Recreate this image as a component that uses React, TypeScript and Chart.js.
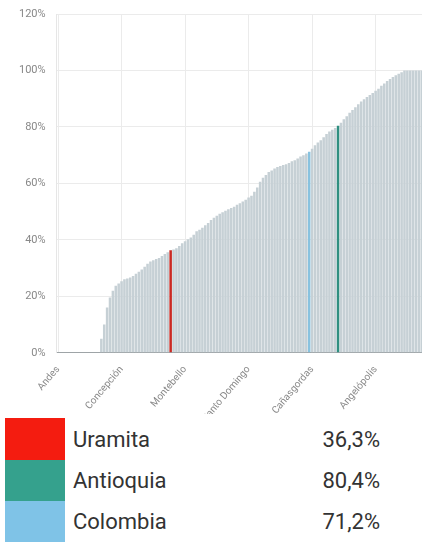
import React, { useEffect, useRef } from "react";
import { Chart, registerables } from "chart.js";

Chart.register(...registerables);

// Share per municipality, sorted ascending (Antioquia and Colombia inserted)
const values: number[] = [
  0, 0, 0, 0, 0, 0, 0, 0, 0, 0, 0, 0, 0, 0, 0,
  5, 10, 16, 19.6, 22, 23.7, 24.5, 25.3, 26, 26.3,
  26.7, 27.2, 28, 28.7, 29.5, 30.5, 31.5, 32.3, 32.8, 33.2,
  33.6, 34.3, 35.0, 35.6, 36.3,
  36.6, 37.0, 37.8, 38.8, 39.5, 40.2, 40.8, 41.8, 43.0, 43.6,
  44.3, 45.2, 46.0, 47.0, 47.8, 48.5, 49.2, 49.8, 50.3, 50.8,
  51.3, 51.7, 52.4, 53.0, 53.6, 54.2, 55.0, 55.6, 57.0, 58.5,
  60.6, 62.0, 63.0, 64.0, 64.6, 65.3, 65.8, 66.2, 66.5, 66.8,
  67.2, 67.8, 68.2, 68.8, 69.5, 70.0, 70.6, 71.2, 72.3, 73.5,
  74.5, 75.3, 76.3, 77.5, 78.4, 79.0, 79.6, 80.4, 81.5, 82.7,
  83.8, 85.0, 86.0, 87.0, 88.0, 89.0, 89.8, 90.6, 91.3, 92.0,
  92.8, 93.5, 94.6, 95.4, 96.3, 97.0, 97.7, 98.3, 98.8, 99.4,
  100, 100, 100, 100, 100, 100, 100,
];

const tickLabels: string[] = [
  "Andes",
  "Concepción",
  "Montebello",
  "Santo Domingo",
  "Cañasgordas",
  "Angelópolis",
];
const tickStep = 22;

const highlightNames: string[] = ["Uramita", "Antioquia", "Colombia"];
const highlightIndex: number[] = [39, 97, 87];
const highlightValueText: string[] = ["36,3%", "80,4%", "71,2%"];
const highlightBarColors: string[] = ["#c92a24", "#2f8f80", "#88c2df"];
const legendColors: string[] = ["#f41c10", "#35a18d", "#7fc3e7"];
const baseBarColor = "#c6d0d5";

const yTicks: number[] = [0, 20, 40, 60, 80, 100, 120];

export default function App() {
  const ref = useRef<HTMLCanvasElement>(null);

  useEffect(() => {
    document.body.style.margin = "0";
    const labels = values.map((_, i) => {
      const h = highlightIndex.indexOf(i);
      if (h >= 0) return highlightNames[h];
      if (i % tickStep === 0) return tickLabels[i / tickStep];
      return "";
    });
    const colors = values.map((_, i) => {
      const h = highlightIndex.indexOf(i);
      return h >= 0 ? highlightBarColors[h] : baseBarColor;
    });
    Chart.defaults.font.family = "Roboto";
    const chart = new Chart(ref.current!, {
      type: "bar",
      data: {
        labels,
        datasets: [
          {
            data: values,
            backgroundColor: colors,
            borderWidth: 0,
            barPercentage: 0.88,
            categoryPercentage: 1,
          },
        ],
      },
      options: {
        animation: false,
        responsive: false,
        devicePixelRatio: 1,
        layout: { padding: { left: 16, right: 0, top: 14, bottom: 0 } },
        plugins: { legend: { display: false }, tooltip: { enabled: false } },
        scales: {
          x: {
            grid: {
              offset: false,
              color: (c: any) =>
                c.index % tickStep === 0 ? "#ebebeb" : "rgba(0,0,0,0)",
              tickColor: "rgba(0,0,0,0)",
            },
            border: { color: "#9ea4a7" },
            ticks: {
              autoSkip: false,
              minRotation: 50,
              maxRotation: 50,
              color: "#888",
              font: { size: 10 },
              callback: (_v: any, i: number) =>
                i % tickStep === 0 ? labels[i] : "",
            },
          },
          y: {
            min: yTicks[0],
            max: yTicks[yTicks.length - 1],
            grid: { color: "#ebebeb", tickColor: "rgba(0,0,0,0)" },
            border: { color: "#e6e6e6" },
            ticks: {
              stepSize: 20,
              color: "#888",
              font: { size: 11 },
              callback: (v: any) => v + "%",
            },
          },
        },
      },
    });
    return () => chart.destroy();
  }, []);

  return (
    <div style={{ position: "absolute", left: 0, top: 0, width: 422, height: 542, background: "#fff", overflow: "hidden" }}>
      <div style={{ position: "absolute", left: 0, top: 0, width: 422, height: 414, overflow: "hidden" }}>
        <canvas ref={ref} width={434} height={427} style={{ display: "block" }} />
      </div>
      <div style={{ position: "absolute", left: 0, top: 418, width: 422, fontFamily: "Roboto", color: "#333" }}>
        {highlightNames.map((name, k) => (
          <div key={name} style={{ position: "relative", height: k === 0 ? 42 : 41 }}>
            <div style={{ position: "absolute", left: 5, top: 0, width: 60, height: "100%", background: legendColors[k] }} />
            <div style={{ position: "absolute", left: 73, top: 0, height: "100%", display: "flex", alignItems: "center", fontSize: 22 }}>{name}</div>
            <div style={{ position: "absolute", right: 42, top: 0, height: "100%", display: "flex", alignItems: "center", fontSize: 22 }}>{highlightValueText[k]}</div>
          </div>
        ))}
      </div>
    </div>
  );
}
